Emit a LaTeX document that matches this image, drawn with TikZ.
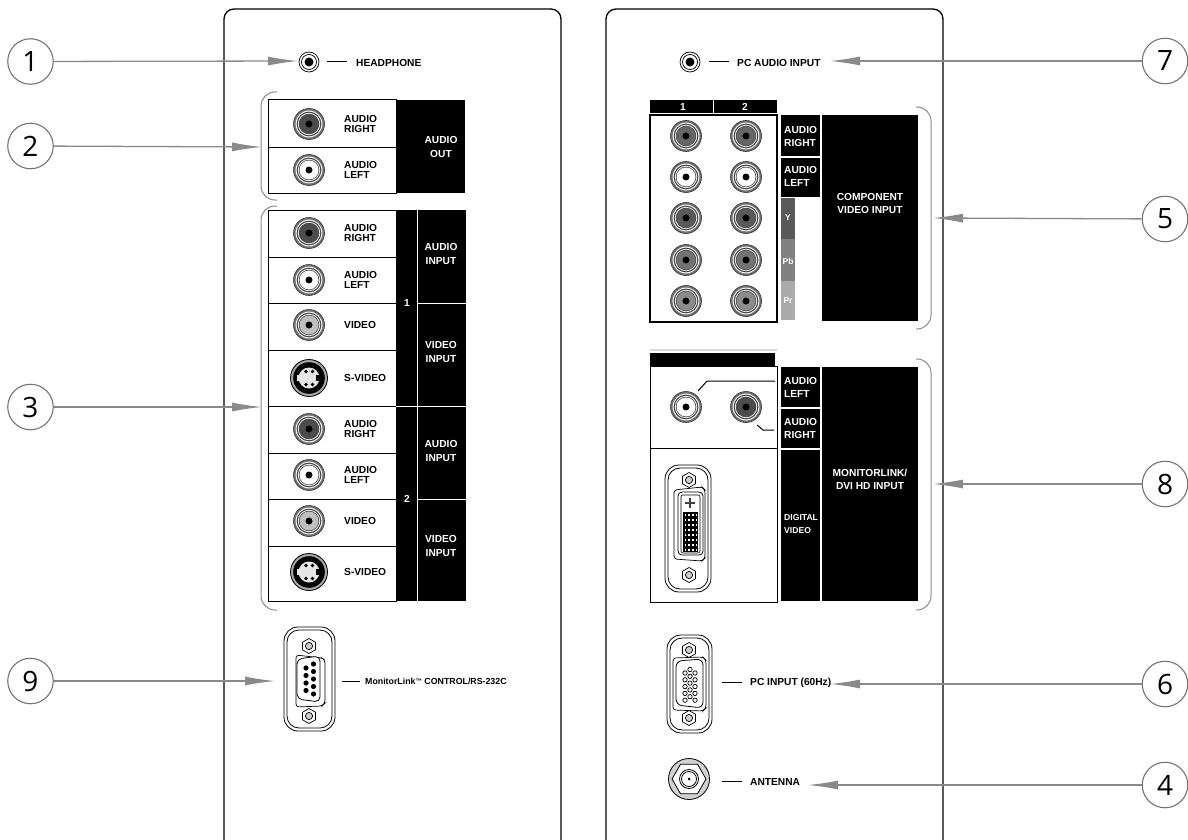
\documentclass[tikz,border=0pt]{standalone}
\usepackage{fontspec}
\setmainfont{Liberation Sans}
\newfontfamily\callfont{Open Sans}
\usetikzlibrary{arrows.meta,shapes.geometric}
\definecolor{calloutgray}{HTML}{8A8A8A}
\tikzset{
  panel/.style={draw=black,line width=1.3pt,rounded corners=10pt},
  bracket/.style={draw=calloutgray,line width=1pt,rounded corners=14pt},
  callnum/.style={draw=black!55,line width=1.1pt,circle,minimum size=45.5pt,inner sep=0pt,font=\callfont\fontsize{28}{28}\selectfont},
  callout/.style={draw=calloutgray,line width=1.3pt,-{Latex[length=30pt,width=9pt,color=calloutgray]}},
  lab/.style={font=\bfseries\fontsize{10.2}{10.2}\selectfont,align=left,anchor=west,inner sep=0pt},
  wlab/.style={lab,text=white},
  clab/.style={wlab,align=center,anchor=center},
  tiny lab/.style={wlab,font=\bfseries\fontsize{8.5}{8.5}\selectfont,anchor=center},
  jackbox/.style={draw=black,line width=1pt,fill=white},
  blk/.style={fill=black,draw=none},
  tick/.style={draw=black,line width=1pt},
}
\newcommand{\Jack}[3]{
  \node[circle,draw=black!80,line width=.6pt,fill=black!55,minimum size=31pt,inner sep=0pt] (#1) at (#2) {};
  \path[fill=white] (#1) circle (13.4);
  \path[fill=black!75] (#1) circle (12.4);
  \path[fill=white] (#1) circle (11.2);
  \path[fill=black!70] (#1) circle (10.3);
  \path[fill=#3] (#1) circle (9.5);
  \path[fill=black] (#1) circle (3.5);
}
\newcommand{\Svideo}[2]{
  \node[circle,draw=black,line width=.8pt,fill=black!35,minimum size=37pt,inner sep=0pt] (#1) at (#2) {};
  \path[fill=black] (#1) circle (15.8);
  \path[fill=black!10] (#1) circle (10.5);
  \path[fill=black!10] ([shift={(-12,-3)}]#1) rectangle ([shift={(-7,3)}]#1);
  \path[fill=black] ([shift={(7,-3)}]#1) rectangle ([shift={(12,3)}]#1);
  \path[fill=black] ([shift={(-3,-6.5)}]#1) circle (1.8) ([shift={(3.5,-6.5)}]#1) circle (1.8)
    ([shift={(-3,6.5)}]#1) circle (1.8) ([shift={(3.5,6.5)}]#1) circle (1.8);
}
\newcommand{\Screw}[2]{
  \node[regular polygon,regular polygon sides=6,shape border rotate=30,draw=black,line width=.7pt,fill=white,minimum size=15pt,inner sep=0pt] (#1) at (#2) {};
  \draw[line width=.7pt,fill=black!20] (#1) circle (3.6);
}
\begin{document}
\begin{tikzpicture}[x=1pt,y=-1pt]
  \useasboundingbox (0,0) rectangle (1188,840);
  % panels
  \draw[panel] (224,840) -- (224,9) -- (561,9) -- (561,840);
  \draw[panel] (606,840) -- (606,9) -- (943,9) -- (943,840);

  % headphone
  \node[circle,draw=black,line width=.7pt,minimum size=20pt,inner sep=0pt] (Head) at (309,62) {};
  \draw[line width=.7pt] (Head) circle (7.5);
  \path[fill=black] (Head) circle (4.5);
  \coordinate (HeadL) at (327,62);
  \coordinate (HeadR) at (347,62);
  \draw[tick] (HeadL) -- (HeadR);
  \node[lab] (HeadT) at (356,63) {HEADPHONE};

  % audio out
  \fill[blk] (396,100) rectangle (465,193);
  \draw[jackbox] (268,100) rectangle (396,193);
  \draw[line width=1pt] (268,147) -- (396,147);
  \Jack{OutR}{309,124}{black!70}
  \Jack{OutL}{309,170}{white}
  \node[lab] (OutRT) at (344,124) {AUDIO\\[.5pt]RIGHT};
  \node[lab] (OutLT) at (344,170) {AUDIO\\[.5pt]LEFT};
  \node[clab] (OutT) at (441,147) {AUDIO\\[3pt]OUT};

  % inputs 1 and 2
  \fill[blk] (396,210) rectangle (466,601);
  \draw[jackbox] (268,210) rectangle (396,601);
  \foreach \yy in {257,303,350,406,453,499,546}
    \draw[line width=1pt] (268,\yy) -- (396,\yy);
  \draw[white,line width=1pt] (417,210) -- (417,601);
  \draw[white,line width=1pt] (396,406) -- (466,406);
  \foreach \yy in {303,499}
    \draw[white,line width=1pt] (418,\yy) -- (466,\yy);
  \Jack{InRa}{309,233}{black!70}
  \Jack{InLa}{309,280}{white}
  \Jack{InVa}{309,325}{black!25}
  \Svideo{InSa}{309,378}
  \Jack{InRb}{309,429}{black!70}
  \Jack{InLb}{309,475}{white}
  \Jack{InVb}{309,521}{black!25}
  \Svideo{InSb}{309,572}
  \node[lab] (InRaT) at (344,233) {AUDIO\\[.5pt]RIGHT};
  \node[lab] (InLaT) at (344,280) {AUDIO\\[.5pt]LEFT};
  \node[lab] (InVaT) at (344,325) {VIDEO};
  \node[lab] (InSaT) at (344,378) {S-VIDEO};
  \node[lab] (InRbT) at (344,429) {AUDIO\\[.5pt]RIGHT};
  \node[lab] (InLbT) at (344,475) {AUDIO\\[.5pt]LEFT};
  \node[lab] (InVbT) at (344,521) {VIDEO};
  \node[lab] (InSbT) at (344,572) {S-VIDEO};
  \node[wlab,anchor=center] (NumA) at (407,303) {1};
  \node[wlab,anchor=center] (NumB) at (407,499) {2};
  \node[clab] (InAa) at (441,254) {AUDIO\\[3pt]INPUT};
  \node[clab] (InVa2) at (441,352) {VIDEO\\[3pt]INPUT};
  \node[clab] (InAb) at (441,451) {AUDIO\\[3pt]INPUT};
  \node[clab] (InVb2) at (441,546) {VIDEO\\[3pt]INPUT};

  % rs232
  \draw[line width=.8pt,rounded corners=14pt] (284,627) rectangle (335,731);
  \draw[line width=.8pt,rounded corners=12pt] (287,630) rectangle (332,728);
  \draw[line width=.7pt,rounded corners=3pt] (296,655) -- (322,658) -- (325,660) -- (325,703) -- (322,706) -- (296,707) -- cycle;
  \draw[line width=.8pt,fill=white,rounded corners=5pt] (297,659) -- (320,656) -- (320,702) -- (297,699) -- cycle;
  \foreach \yy in {668,675.5,683,690.5}
    \fill[black] (306,\yy) circle (2.6);
  \foreach \yy in {664,671.5,679,686.5,694}
    \fill[black] (313.5,\yy) circle (2.6);
  \Screw{RsA}{309,646}
  \Screw{RsB}{309,716}
  \coordinate (RsL) at (342,681);
  \coordinate (RsR) at (360,681);
  \draw[tick] (RsL) -- (RsR);
  \node[lab,font=\bfseries\fontsize{8.8}{8.8}\selectfont] (RsT) at (365,681) {MonitorLink{\fontsize{6.5}{6.5}\selectfont\raisebox{1pt}{™}} CONTROL/RS-232C};

  % pc audio
  \node[circle,draw=black,line width=.7pt,minimum size=20pt,inner sep=0pt] (PcA) at (690,62) {};
  \draw[line width=.7pt] (PcA) circle (7.5);
  \path[fill=black] (PcA) circle (4.5);
  \coordinate (PcAL) at (709,62);
  \coordinate (PcAR) at (729,62);
  \draw[tick] (PcAL) -- (PcAR);
  \node[lab] (PcAT) at (737,63) {PC AUDIO INPUT};

  % component
  \fill[blk] (650,100) rectangle (777,113);
  \draw[white,line width=1pt] (713,100) -- (713,113);
  \node[wlab,anchor=center] (HdrA) at (683,106.5) {1};
  \node[wlab,anchor=center] (HdrB) at (745,106.5) {2};
  \draw[jackbox,line width=1.3pt] (650,115) rectangle (777,322);
  \foreach \nn/\xx in {a/686,b/746}{
    \Jack{CompR\nn}{\xx,136}{black!60}
    \Jack{CompL\nn}{\xx,177}{white}
    \Jack{CompY\nn}{\xx,218}{black!65}
    \Jack{CompB\nn}{\xx,260}{black!55}
    \Jack{CompP\nn}{\xx,301}{black!45}
  }
  \fill[blk] (781,115) rectangle (820,156);
  \fill[blk] (781,157.5) rectangle (820,197);
  \fill[black!65] (781,198) rectangle (795,239);
  \fill[black!50] (781,239) rectangle (795,281);
  \fill[black!33] (781,281) rectangle (795,320);
  \fill[blk] (822,115) rectangle (918,321);
  \node[wlab] (CompRT) at (784,136.5) {AUDIO\\[3pt]RIGHT};
  \node[wlab] (CompLT) at (784,176.5) {AUDIO\\[3pt]LEFT};
  \node[tiny lab] (YT) at (788,218) {Y};
  \node[tiny lab] (PbT) at (788,261) {Pb};
  \node[tiny lab] (PrT) at (788,301) {Pr};
  \node[clab] (CompT) at (870,203.5) {COMPONENT\\[3pt]VIDEO INPUT};

  % monitorlink
  \draw[black!15,line width=1.3pt] (650,350) -- (777,350);
  \fill[blk] (650,353) rectangle (775,366);
  \draw[jackbox] (650,366) rectangle (777,602);
  \draw[line width=1pt] (650,448) -- (777,448);
  \Jack{MonL}{686,407}{white}
  \Jack{MonR}{746,407}{black!70}
  \coordinate (MonLa) at (698,391);
  \coordinate (MonLb) at (707,381);
  \coordinate (MonLc) at (775,381);
  \coordinate (MonRa) at (757,425);
  \coordinate (MonRb) at (763,430);
  \coordinate (MonRc) at (774,430);
  \draw[line width=1pt] (MonLa) -- (MonLb) -- (MonLc);
  \draw[line width=1pt] (MonRa) -- (MonRb) -- (MonRc);
  \fill[blk] (781,367) rectangle (820,407);
  \fill[blk] (781,409) rectangle (820,448);
  \fill[blk] (781,450) rectangle (820,601);
  \fill[blk] (822,367) rectangle (918,601);
  \node[wlab] (MonLT) at (784,387.5) {AUDIO\\[3pt]LEFT};
  \node[wlab] (MonRT) at (784,428.5) {AUDIO\\[3pt]RIGHT};
  \node[wlab,font=\bfseries\fontsize{8.6}{8.6}\selectfont] (DigT) at (784,524) {DIGITAL\\[4pt]VIDEO};
  \node[clab] (MonT) at (870,479.5) {MONITORLINK/\\[3pt]DVI HD INPUT};

  % dvi
  \draw[line width=.8pt,rounded corners=14pt] (665,465) rectangle (711,592);
  \draw[line width=.8pt,rounded corners=12pt] (668,468) rectangle (708,589);
  \draw[line width=.7pt,rounded corners=3pt] (674,490) -- (702,487) -- (705,490) -- (705,558) -- (702,561) -- (674,559) -- cycle;
  \draw[line width=.8pt,fill=white,rounded corners=4pt] (678,492) rectangle (703,555);
  \draw[line width=.6pt,rounded corners=2pt] (681,495) rectangle (700,553);
  \draw[black!75,line width=1.6pt] (690,498) -- (690,508) (685,503) -- (695,503);
  \fill[black] (683,512) rectangle (698,552);
  \foreach \yy in {513.5,518.5,...,551}
    \foreach \xx in {684.5,688.2,691.9,695.6}
      \fill[white] (\xx,\yy) rectangle +(1.6,2.4);
  \Screw{DviA}{689,480}
  \Screw{DviB}{689,575}

  % pc input
  \draw[line width=.8pt,rounded corners=14pt] (667,635) rectangle (712,733);
  \draw[line width=.8pt,rounded corners=12pt] (670,638) rectangle (709,730);
  \draw[line width=.7pt,rounded corners=3pt] (673,658) -- (703,657) -- (706,660) -- (706,708) -- (703,711) -- (673,710) -- cycle;
  \draw[line width=.8pt,fill=white,rounded corners=6pt] (676,661) -- (703,659) -- (703,708) -- (676,705) -- cycle;
  \foreach \xx/\ya in {685/673,695/673,690/669.5}
    \foreach \nn in {0,...,4}
      \draw[line width=.7pt] (\xx,\ya+\nn*6.8) circle (2.2);
  \Screw{VgaA}{689,650}
  \Screw{VgaB}{689,718}
  \coordinate (VgaL) at (722,682);
  \coordinate (VgaR) at (742,682);
  \draw[tick] (VgaL) -- (VgaR);
  \node[lab] (VgaT) at (750,683) {PC INPUT (60Hz)};

  % antenna
  \node[circle,draw=black,line width=.8pt,fill=black!18,minimum size=41pt,inner sep=0pt] (Ant) at (689,779) {};
  \node[regular polygon,regular polygon sides=6,draw=black,line width=.8pt,fill=white,minimum size=34pt,inner sep=0pt] (AntHex) at (Ant) {};
  \draw[line width=.8pt] (Ant) circle (9.5);
  \draw[line width=.8pt] (Ant) circle (7.5);
  \fill[black] (Ant) circle (1.5);
  \coordinate (AntL) at (722,781);
  \coordinate (AntR) at (742,781);
  \draw[tick] (AntL) -- (AntR);
  \node[lab] (AntT) at (750,782) {ANTENNA};

  % brackets
  \draw[bracket] (277,92) -- (261,92) -- (261,200) -- (277,200);
  \draw[bracket] (277,206) -- (261,206) -- (261,610) -- (277,610);
  \draw[bracket] (916,107) -- (931,107) -- (931,329) -- (916,329);
  \draw[bracket] (916,359) -- (931,359) -- (931,610) -- (916,610);

  % callouts
  \node[callnum] (Num1) at (30.5,61.5) {1};
  \node[callnum] (Num2) at (30.5,146) {2};
  \node[callnum] (Num3) at (30.5,407) {3};
  \node[callnum] (Num9) at (30.5,681) {9};
  \node[callnum] (Num7) at (1165,61) {7};
  \node[callnum] (Num5) at (1165,219) {5};
  \node[callnum] (Num8) at (1165,484) {8};
  \node[callnum] (Num6) at (1165,684) {6};
  \node[callnum] (Num4) at (1165,785) {4};
  \coordinate (Tip1) at (298,61);
  \coordinate (Tip2) at (262,147);
  \coordinate (Tip3) at (262,407);
  \coordinate (Tip9) at (275,681);
  \coordinate (Tip7) at (830,61);
  \coordinate (Tip5) at (933,218);
  \coordinate (Tip8) at (933,484);
  \coordinate (Tip6) at (830,684);
  \coordinate (Tip4) at (808,785);
  \foreach \nn in {1,2,3,9,7,5,8,6,4}
    \draw[callout] (Num\nn) -- (Tip\nn);
\end{tikzpicture}
\end{document}
